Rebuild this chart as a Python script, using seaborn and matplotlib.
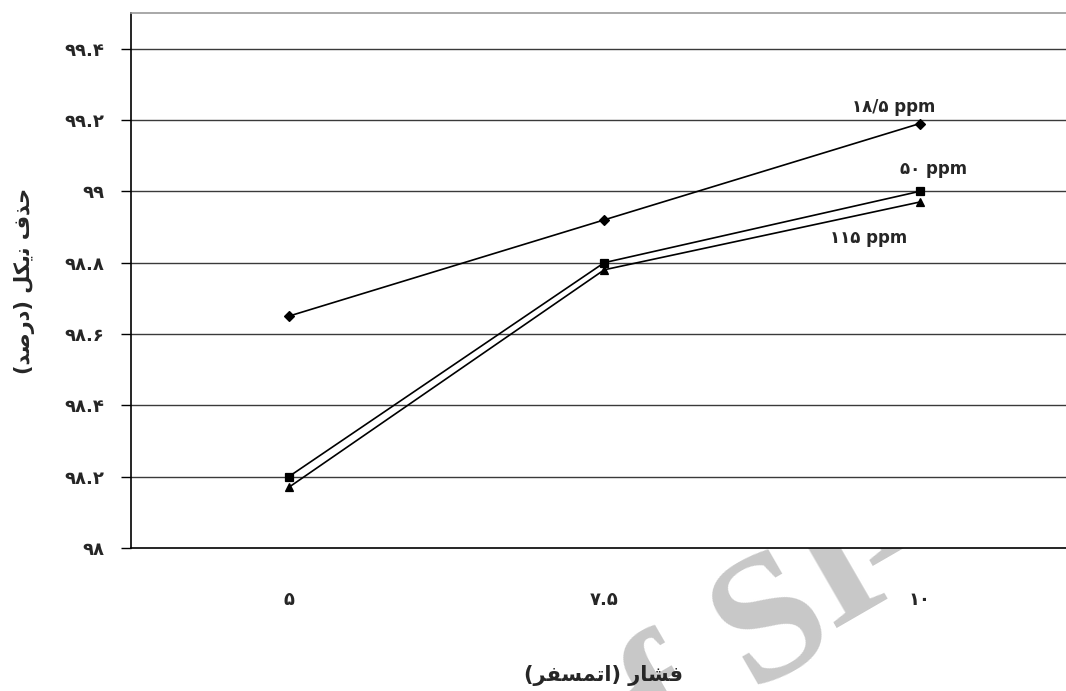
import matplotlib
matplotlib.use("Agg")
import matplotlib.pyplot as plt
import seaborn as sns
import pandas as pd

# Operating pressure (atm) and its Persian tick labels
pressure = ["5", "7.5", "10"]
pressure_labels = ["۵", "۷.۵", "۱۰"]

# Nickel removal (%) for each feed concentration
removal_18_5 = [98.65, 98.92, 99.19]
removal_50 = [98.20, 98.80, 99.00]
removal_115 = [98.17, 98.78, 98.97]

series_names = ["18.5 ppm", "50 ppm", "115 ppm"]
series_labels = ["۱۸/۵ ppm", "۵۰ ppm", "۱۱۵ ppm"]

y_ticks = [98.0, 98.2, 98.4, 98.6, 98.8, 99.0, 99.2, 99.4]
y_tick_labels = ["۹۸", "۹۸.۲", "۹۸.۴", "۹۸.۶", "۹۸.۸", "۹۹", "۹۹.۲", "۹۹.۴"]

# Axis titles, written in shaped (presentation) forms in visual order
x_title = "(\uFEAE\uFED4\uFEB4\uFEE4\uFE97\uFE8D) \uFEAD\uFE8E\uFEB8\uFED3"   # فشار (اتمسفر)
y_title = "(\uFEAA\uFEBB\uFEAD\uFEA9) \uFEDE\uFB91\uFBFE\uFEE7 \uFED1\uFEAC\uFEA3"  # حذف نیکل (درصد)

df = pd.DataFrame({
    "pressure": pressure * 3,
    "removal": removal_18_5 + removal_50 + removal_115,
    "conc": [s for s in series_names for _ in pressure],
})

sns.set_style("white")
plt.rcParams["font.family"] = ["DejaVu Sans"]

fig = plt.figure(figsize=(10.66, 6.91), dpi=100)
ax = fig.add_axes([131 / 1066, 143 / 691, 946.5 / 1066, 535 / 691])
ax.set_facecolor("white")

sns.pointplot(
    data=df, x="pressure", y="removal", hue="conc",
    order=pressure, hue_order=series_names,
    palette=["black"] * 3, markers=["D", "s", "^"], linestyles=["-"] * 3,
    errorbar=None, dodge=False, legend=False, ax=ax,
    markersize=5.5, linewidth=1.2,
)

ax.set_xlim(-0.5, 2.5)
ax.set_ylim(98.0, 99.5)

# horizontal grid
ax.set_yticks(y_ticks)
ax.set_yticklabels(y_tick_labels, fontsize=13, fontweight="bold")
for yv in y_ticks[1:]:
    ax.axhline(yv, color="#3a3a3a", linewidth=1.0, zorder=1)

# category labels in the centre, tick marks between categories
ax.set_xticks(range(len(pressure)))
ax.set_xticklabels(pressure_labels, fontsize=13, fontweight="bold")
ax.set_xticks([0.5, 1.5], minor=True)
ax.tick_params(axis="x", which="major", length=0, pad=31)
ax.tick_params(axis="x", which="minor", length=5, width=1, color="black", direction="out")
ax.tick_params(axis="y", which="major", length=7, width=1, color="black", direction="out", pad=12, left=True)

for side in ["left", "bottom"]:
    ax.spines[side].set_color("black")
    ax.spines[side].set_linewidth(1.2)
ax.spines["top"].set_color("#9a9a9a")
ax.spines["top"].set_linewidth(1.2)
ax.spines["right"].set_visible(False)

ax.set_xlabel("")
ax.set_ylabel("")
fig.text(604 / 1066, 1 - 675 / 691, x_title, ha="center", va="center",
         fontsize=15, fontweight="bold")
fig.text(25 / 1066, 1 - 281 / 691, y_title, ha="center", va="center",
         rotation=90, fontsize=15, fontweight="bold")

# series labels next to the last points
last_vals = [removal_18_5[-1], removal_50[-1], removal_115[-1]]
offsets = [(-19, 12), (10, 16), (-37, -26)]
for lab, val, off in zip(series_labels, last_vals, offsets):
    ax.annotate(lab, xy=(len(pressure) - 1, val), xytext=off,
                textcoords="offset points", ha="center", va="center",
                fontsize=12, fontweight="bold")

# light watermark letters behind the chart
for ch, (px, py) in zip("fSID", [(668, 712), (772, 625), (840, 572), (905, 495)]):
    fig.text(px / 1066, 1 - py / 691, ch, ha="center", va="center",
             rotation=30, rotation_mode="anchor", fontsize=132,
             fontweight="bold", color="#c8c8c8", family="Liberation Serif",
             zorder=-1)

fig.savefig("out.png", dpi=100)
